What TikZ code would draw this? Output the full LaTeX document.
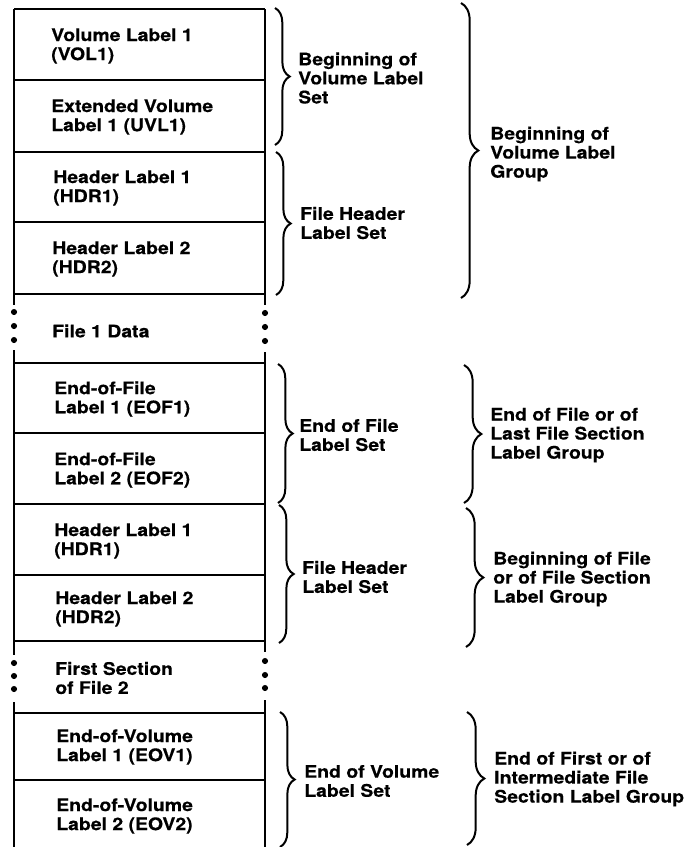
\documentclass[tikz,border=0pt]{standalone}
\usepackage{fontspec}
\setmainfont{TeX Gyre Heros}[FakeStretch=1.12, BoldFeatures={FakeBold=0.4}]
\usetikzlibrary{decorations.pathreplacing}

\begin{document}
\begin{tikzpicture}[x=0.75pt, y=-0.75pt,
    rowtext/.style={anchor=west, align=left, inner sep=0pt, font=\bfseries\fontsize{13}{14.3}\selectfont},
    frame/.style={line width=1.7pt},
    divider/.style={line width=1pt},
    setbrace/.style={decorate, decoration={brace, amplitude=11pt, aspect=0.5}, line width=1.5pt},
    groupbrace/.style={decorate, decoration={brace, amplitude=13pt}, line width=1.5pt}]

    \useasboundingbox (0,0) rectangle (691,847);

    % --- Outer frame of the tape, broken where data runs on ---
    \draw[frame] (14,9) -- (14,305);
    \draw[frame] (14,350) -- (14,655);
    \draw[frame] (14,702) -- (14,847);
    \draw[frame] (265,9) -- (265,305);
    \draw[frame] (265,352) -- (265,652);
    \draw[frame] (265,700) -- (265,847);

    % --- Record dividers ---
    \draw[divider] (14,9) -- (265,9);
    \draw[divider] (14,80) -- (265,80);
    \draw[divider] (14,152) -- (265,152);
    \draw[divider] (14,222) -- (265,222);
    \draw[divider] (14,294) -- (265,294);
    \draw[divider] (14,363) -- (265,363);
    \draw[divider] (14,433) -- (265,433);
    \draw[divider] (14,504) -- (265,504);
    \draw[divider] (14,575) -- (265,575);
    \draw[divider] (14,641) -- (265,641);
    \draw[divider] (14,713) -- (265,713);
    \draw[divider] (14,780) -- (265,780);

    % --- Continuation dots ---
    \fill (14,312) circle (2.3pt);
    \fill (14,326) circle (2.3pt);
    \fill (14,340) circle (2.3pt);
    \fill (265,313) circle (2.3pt);
    \fill (265,327) circle (2.3pt);
    \fill (265,341) circle (2.3pt);
    \fill (14,663) circle (2.3pt);
    \fill (14,676) circle (2.3pt);
    \fill (14,689) circle (2.3pt);
    \fill (265,661) circle (2.3pt);
    \fill (265,675) circle (2.3pt);
    \fill (265,688) circle (2.3pt);

    % --- Records ---
    \node[rowtext] (vol1) at (51,46) {Volume Label 1\\(VOL1)};
    \node[rowtext] (uvl1) at (51,117) {Extended Volume\\Label 1 (UVL1)};
    \node[rowtext] (hdr1) at (53,188) {Header Label 1\\(HDR1)};
    \node[rowtext] (hdr2) at (52,259) {Header Label 2\\(HDR2)};
    \node[rowtext] (data1) at (52,331) {File 1 Data};
    \node[rowtext] (eof1) at (54,399) {End-of-File\\Label 1 (EOF1)};
    \node[rowtext] (eof2) at (54,470) {End-of-File\\Label 2 (EOF2)};
    \node[rowtext] (hdr1b) at (54,541) {Header Label 1\\(HDR1)};
    \node[rowtext] (hdr2b) at (55,609) {Header Label 2\\(HDR2)};
    \node[rowtext] (sect1) at (55,678) {First Section\\of File 2};
    \node[rowtext] (eov1) at (56,747) {End-of-Volume\\Label 1 (EOV1)};
    \node[rowtext] (eov2) at (56,816) {End-of-Volume\\Label 2 (EOV2)};

    % --- Label sets ---
    \draw[setbrace] (275,8) -- (275,145);
    \node[rowtext] (volset) at (298,78) {Beginning of\\Volume Label\\Set};
    \draw[setbrace] (276,152) -- (276,295);
    \node[rowtext] (hdrset) at (300,223) {File Header\\Label Set};
    \draw[setbrace] (278,364) -- (278,503);
    \node[rowtext] (eofset) at (299,435) {End of File\\Label Set};
    \draw[setbrace] (279,505) -- (279,643);
    \node[rowtext] (hdrsetb) at (302,577) {File Header\\Label Set};
    \draw[setbrace] (280,712) -- (280,847);
    \node[rowtext] (eovset) at (304,781) {End of Volume\\Label Set};

    % --- Label groups ---
    \draw[groupbrace] (461,3) -- (461,298);
    \node[rowtext] (volgrp) at (490,154) {Beginning of\\Volume Label\\Group};
    \draw[groupbrace] (464,365) -- (464,503);
    \node[rowtext] (eofgrp) at (490,435) {End of File or of\\Last File Section\\Label Group};
    \draw[groupbrace] (466,508) -- (466,647);
    \node[rowtext] (filegrp) at (493,579) {Beginning of File\\or of File Section\\Label Group};
    \draw[groupbrace] (467,712) -- (467,845);
    \node[rowtext] (sectgrp) at (494,779) {End of First or of\\Intermediate File\\Section Label Group};

\end{tikzpicture}
\end{document}
